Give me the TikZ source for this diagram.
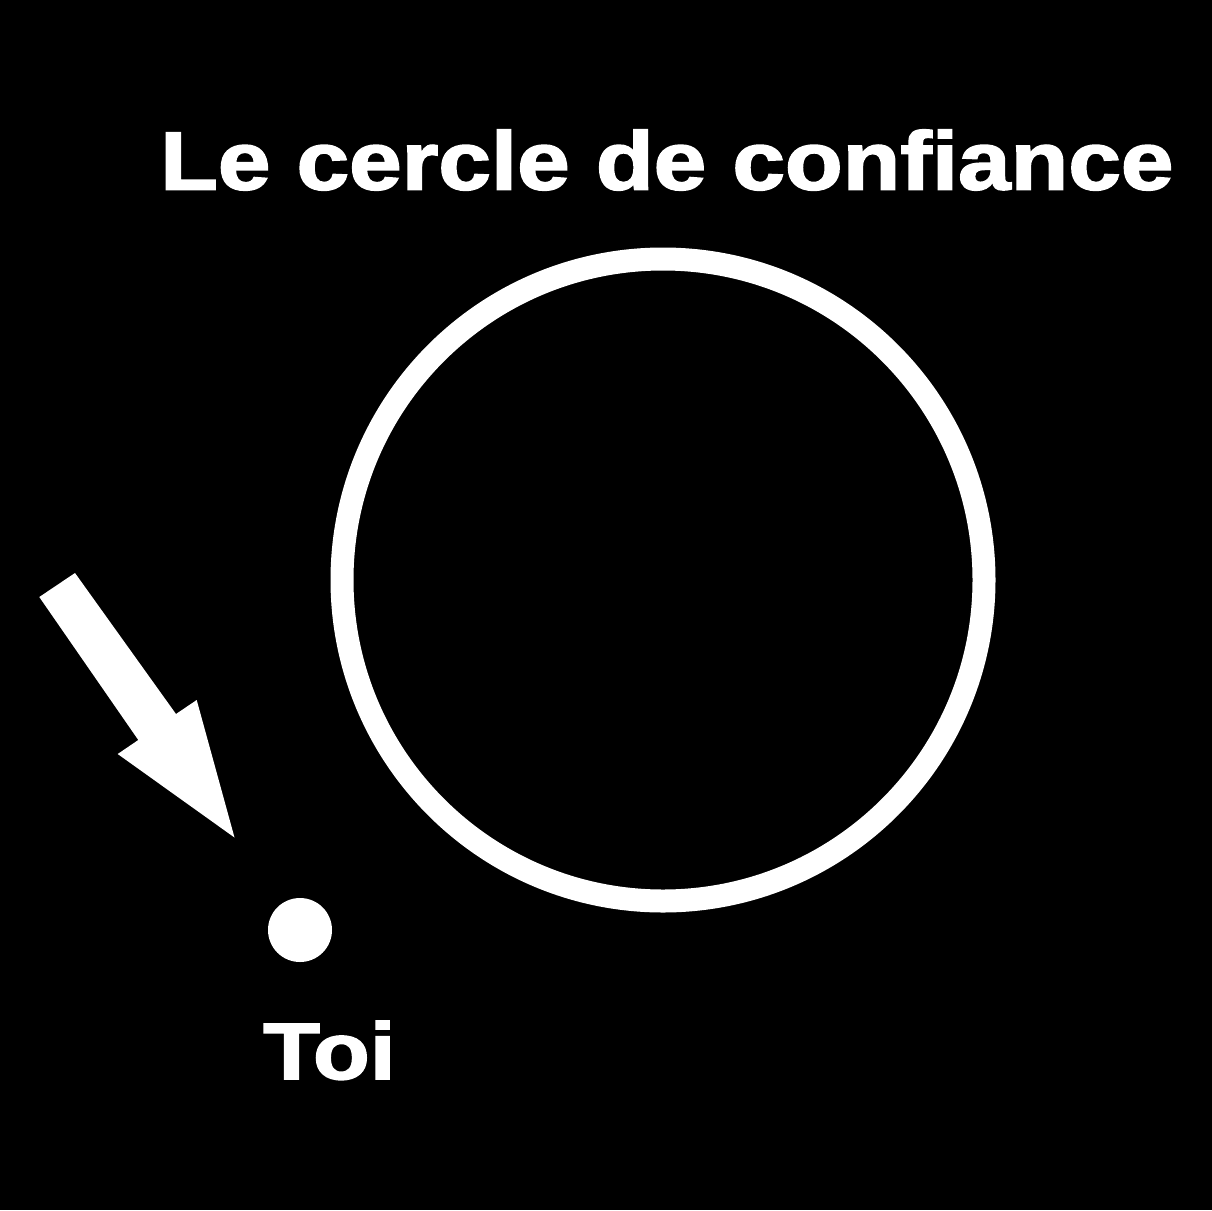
\documentclass[tikz,border=0pt]{standalone}
\usepackage{fontspec}
\setmainfont{Liberation Sans}
\newfontfamily\heavyfont[BoldFeatures={FakeBold=2}]{Liberation Sans}
\tikzset{
  whitetext/.style={text=white, inner sep=0pt, font=\heavyfont\bfseries},
  ring/.style={circle, draw=white, line width=23pt, minimum size=642pt, inner sep=0pt},
  dotnode/.style={circle, fill=white, minimum size=64pt, inner sep=0pt},
  blockarrow/.style={fill=white}
}
\begin{document}
\begin{tikzpicture}[x=1pt,y=-1pt]
\fill[black] (0,0) rectangle (1212,1210);
\useasboundingbox (0,0) rectangle (1212,1210);
\node[whitetext, anchor=base west] (title) at (160,189.5)
  {\scalebox{1.145}[1]{\fontsize{82.5pt}{90pt}\selectfont\heavyfont\bfseries Le cercle de confiance}};
\node[ring] (cercle) at (663,580) {};
\node[dotnode] (toi) at (300,930) {};
\node[whitetext, anchor=base west] (label) at (263,1079)
  {\scalebox{1.16}[1]{\fontsize{80pt}{88pt}\selectfont\heavyfont\bfseries Toi}};
\fill[blockarrow] (39.3,597) -- (75,573) -- (176,714) -- (196.7,700) -- (234.5,837.5)
  -- (117.7,754) -- (138.3,740) -- cycle;
\end{tikzpicture}
\end{document}
